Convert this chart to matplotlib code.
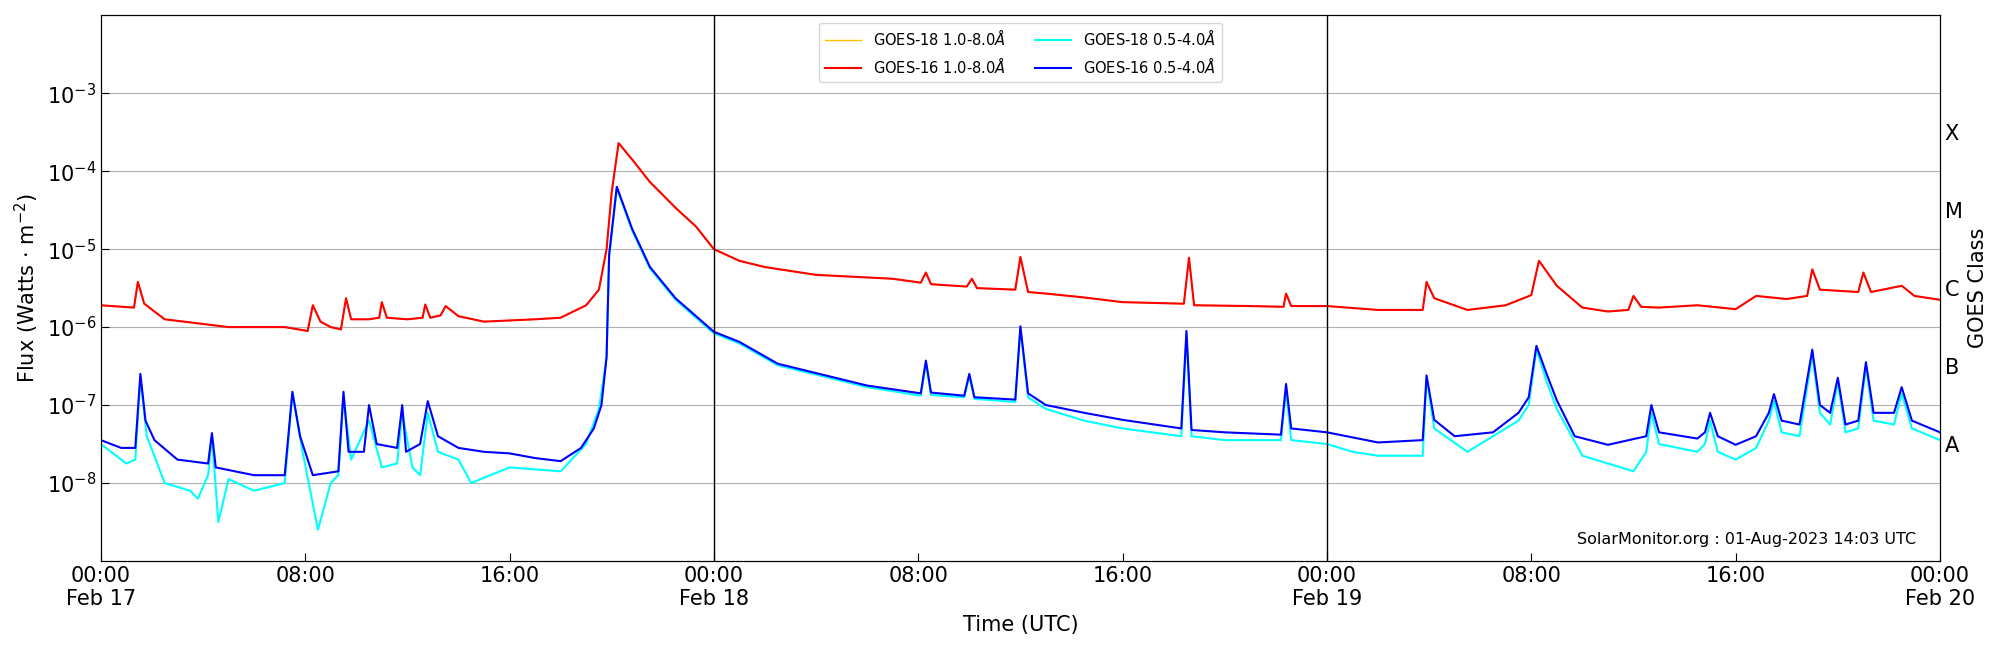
import numpy as np
import matplotlib
matplotlib.use("Agg")
import matplotlib.pyplot as plt

# hours since 2023-02-17 00:00 UTC, log10 flux (W/m^2)
red_t = [0,1.3,1.45,1.7,2.5,5,7.2,8.1,8.3,8.6,9,9.4,9.6,9.8,10.5,10.9,11,11.2,12,12.6,12.7,12.9,13.3,13.5,14,15,17,18,19,19.5,19.8,20,20.27,20.8,21.5,22.5,23.3,24,25,26,28,31,32.1,32.3,32.5,33.9,34.1,34.3,35.8,36,36.3,37,38.5,40,42.4,42.6,42.8,45,46.3,46.4,46.6,48,50,51.75,51.9,52.2,53.5,55,56,56.3,57,58,59,59.8,60,60.3,61,62.5,64,64.8,66,66.8,67,67.3,68.8,69,69.3,70.5,71,72]
red_v = [-5.72,-5.75,-5.42,-5.7,-5.9,-6.0,-6.0,-6.05,-5.72,-5.93,-6.0,-6.03,-5.63,-5.9,-5.9,-5.88,-5.68,-5.88,-5.9,-5.88,-5.71,-5.88,-5.85,-5.73,-5.86,-5.93,-5.9,-5.88,-5.72,-5.52,-5.0,-4.27,-3.64,-3.85,-4.14,-4.47,-4.71,-5.0,-5.15,-5.23,-5.33,-5.38,-5.43,-5.3,-5.45,-5.48,-5.38,-5.5,-5.52,-5.1,-5.55,-5.57,-5.62,-5.68,-5.7,-5.11,-5.72,-5.73,-5.74,-5.57,-5.73,-5.73,-5.78,-5.78,-5.42,-5.63,-5.78,-5.72,-5.59,-5.15,-5.47,-5.75,-5.8,-5.78,-5.6,-5.74,-5.75,-5.72,-5.77,-5.6,-5.64,-5.6,-5.26,-5.52,-5.55,-5.3,-5.55,-5.47,-5.6,-5.65]

blue_t = [0,0.8,1.35,1.55,1.75,2.1,3,4.2,4.35,4.5,6,7.2,7.5,7.8,8.3,9.3,9.5,9.7,10.3,10.5,10.8,11.6,11.8,11.95,12.5,12.8,13.2,14,15,16,17,18,18.8,19.3,19.6,19.8,19.9,20.2,20.8,21.5,22.5,24,25,26.5,28.5,30,32.1,32.3,32.5,33.8,34,34.2,35.8,36,36.3,37,38.5,40,42.3,42.5,42.7,44,46.2,46.4,46.6,48,50,51.75,51.9,52.2,53,54.5,55.5,55.9,56.2,56.6,57,57.7,59,60.5,60.7,61,62.5,62.8,63,63.3,64,64.8,65.3,65.5,65.8,66.5,67,67.3,67.7,68,68.3,68.8,69.1,69.4,70.2,70.5,70.9,72]
blue_v = [-7.45,-7.55,-7.55,-6.6,-7.2,-7.45,-7.7,-7.75,-7.36,-7.8,-7.9,-7.9,-6.83,-7.4,-7.9,-7.85,-6.83,-7.6,-7.6,-7.0,-7.5,-7.55,-7.0,-7.6,-7.5,-6.95,-7.4,-7.55,-7.6,-7.62,-7.68,-7.72,-7.55,-7.3,-7.0,-6.38,-5.07,-4.2,-4.74,-5.23,-5.63,-6.06,-6.19,-6.47,-6.63,-6.75,-6.85,-6.43,-6.84,-6.88,-6.6,-6.9,-6.93,-5.99,-6.85,-7.0,-7.1,-7.19,-7.3,-6.05,-7.32,-7.35,-7.38,-6.73,-7.3,-7.35,-7.48,-7.45,-6.62,-7.19,-7.4,-7.35,-7.1,-6.9,-6.24,-6.6,-6.94,-7.4,-7.51,-7.4,-7.0,-7.35,-7.43,-7.35,-7.1,-7.4,-7.51,-7.4,-7.1,-6.86,-7.2,-7.25,-6.29,-7.0,-7.1,-6.65,-7.25,-7.2,-6.45,-7.1,-7.1,-6.77,-7.2,-7.35]

cyan_t = [0,1,1.35,1.55,1.8,2.5,3.5,3.8,4.2,4.35,4.6,5,6,7.2,7.5,7.9,8.5,9,9.3,9.5,9.8,10.5,11,11.6,11.8,12.2,12.5,12.8,13.2,14,14.5,16,18,19,19.5,19.8,19.9,20.2,20.8,21.5,22.5,24,25,26.5,28.5,30,32.1,32.3,32.5,33.8,34,34.2,35.8,36,36.3,37,38.5,40,42.3,42.5,42.7,44,46.2,46.4,46.6,48,49,50,51.75,51.9,52.2,53.5,55.5,55.9,56.2,56.6,57,58,59,60,60.5,60.7,61,62.5,62.8,63,63.3,64,64.8,65.3,65.5,65.8,66.5,67,67.3,67.7,68,68.3,68.8,69.1,69.4,70.2,70.5,70.9,72]
cyan_v = [-7.5,-7.75,-7.7,-6.65,-7.4,-8.0,-8.1,-8.2,-7.9,-7.4,-8.5,-7.95,-8.1,-8.0,-6.85,-7.6,-8.6,-8.0,-7.9,-6.9,-7.7,-7.2,-7.8,-7.75,-7.1,-7.8,-7.9,-7.1,-7.6,-7.7,-8.0,-7.8,-7.85,-7.5,-7.05,-6.4,-5.1,-4.22,-4.76,-5.25,-5.65,-6.08,-6.21,-6.49,-6.65,-6.77,-6.88,-6.46,-6.87,-6.9,-6.63,-6.92,-6.96,-6.02,-6.9,-7.05,-7.2,-7.3,-7.4,-6.1,-7.4,-7.45,-7.45,-6.8,-7.45,-7.5,-7.6,-7.65,-7.65,-6.65,-7.3,-7.6,-7.2,-7.0,-6.28,-6.7,-7.05,-7.65,-7.75,-7.85,-7.6,-7.1,-7.5,-7.6,-7.5,-7.2,-7.6,-7.7,-7.55,-7.2,-6.95,-7.35,-7.4,-6.35,-7.1,-7.25,-6.7,-7.35,-7.3,-6.5,-7.2,-7.25,-6.85,-7.3,-7.45]

tick_hours = [0,8,16,24,32,40,48,56,64,72]
tick_labels = ["00:00\nFeb 17","08:00","16:00","00:00\nFeb 18","08:00","16:00","00:00\nFeb 19","08:00","16:00","00:00\nFeb 20"]
classes = ["A","B","C","M","X"]
class_logs = [-7.5,-6.5,-5.5,-4.5,-3.5]

fig = plt.figure(figsize=(20,6.5), dpi=100)
ax = fig.add_axes([0.0504,0.137,0.9196,0.8395])
ax.plot(red_t, 10**np.array(red_v), color="#ffc000", lw=1, label="GOES-18 1.0-8.0$\\AA$")
ax.plot(red_t, 10**np.array(red_v), color="red", lw=1.5, label="GOES-16 1.0-8.0$\\AA$")
ax.plot(cyan_t, 10**np.array(cyan_v), color="cyan", lw=1.5, label="GOES-18 0.5-4.0$\\AA$")
ax.plot(blue_t, 10**np.array(blue_v), color="blue", lw=1.5, label="GOES-16 0.5-4.0$\\AA$")
ax.set_yscale("log")
ax.set_ylim(1e-9, 1e-2)
ax.set_xlim(0, 72)
ax.set_yticks([1e-8,1e-7,1e-6,1e-5,1e-4,1e-3])
ax.yaxis.set_minor_locator(matplotlib.ticker.NullLocator())
ax.grid(axis="y", color="#b0b0b0", lw=0.8)
for d in [24,48]:
    ax.axvline(d, color="black", lw=1)
ax.set_xticks(tick_hours)
ax.set_xticklabels(tick_labels)
ax.tick_params(direction="in", labelsize=15, length=6)
ax.set_xlabel("Time (UTC)", fontsize=15)
ax.set_ylabel("Flux (Watts $\\cdot$ m$^{-2}$)", fontsize=15)
ax2 = ax.twinx()
ax2.set_yscale("log")
ax2.set_ylim(1e-9, 1e-2)
ax2.set_yticks([10**v for v in class_logs])
ax2.set_yticklabels(classes)
ax2.yaxis.set_minor_locator(matplotlib.ticker.NullLocator())
ax2.tick_params(length=0, labelsize=15)
ax2.set_ylabel("GOES Class", fontsize=15)
ax.legend(loc="upper center", ncol=2, fontsize=10.5, handlelength=2.5)
ax.text(0.987, 0.025, "SolarMonitor.org : 01-Aug-2023 14:03 UTC", transform=ax.transAxes,
        ha="right", va="bottom", fontsize=11.5)
fig.savefig("out.png", dpi=100)
